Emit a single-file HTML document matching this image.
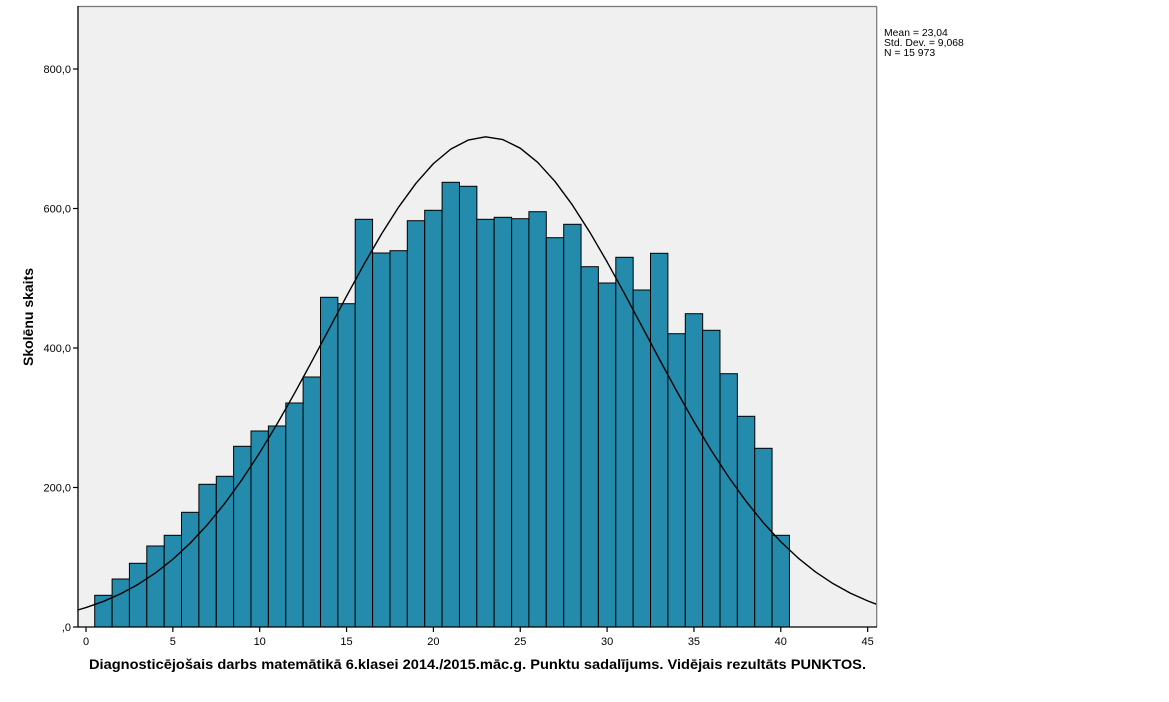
<!DOCTYPE html>
<html><head><meta charset="utf-8"><style>
html,body{margin:0;padding:0;background:#fff;}
svg{display:block;font-family:"Liberation Sans",Arial,sans-serif;}
</style></head><body>
<svg width="1169" height="702" viewBox="0 0 1169 702" xmlns="http://www.w3.org/2000/svg">
<rect x="0" y="0" width="1169" height="702" fill="#fff"/>
<rect x="78" y="6.5" width="799" height="620.5" fill="#f0f0f0"/>
<g fill="#248bac" stroke="#000" stroke-width="1">
<rect x="94.7" y="595.3" width="17.37" height="31.7"/>
<rect x="112.1" y="579" width="17.37" height="48"/>
<rect x="129.4" y="563.3" width="17.37" height="63.7"/>
<rect x="146.8" y="546" width="17.37" height="81"/>
<rect x="164.2" y="535.3" width="17.37" height="91.7"/>
<rect x="181.5" y="512.3" width="17.37" height="114.7"/>
<rect x="198.9" y="484.3" width="17.37" height="142.7"/>
<rect x="216.3" y="476.3" width="17.37" height="150.7"/>
<rect x="233.6" y="446.3" width="17.37" height="180.7"/>
<rect x="251.0" y="431" width="17.37" height="196"/>
<rect x="268.4" y="426" width="17.37" height="201"/>
<rect x="285.8" y="403" width="17.37" height="224"/>
<rect x="303.1" y="377" width="17.37" height="250"/>
<rect x="320.5" y="297.3" width="17.37" height="329.7"/>
<rect x="337.9" y="303.7" width="17.37" height="323.3"/>
<rect x="355.2" y="219.3" width="17.37" height="407.7"/>
<rect x="372.6" y="253" width="17.37" height="374"/>
<rect x="390.0" y="250.7" width="17.37" height="376.3"/>
<rect x="407.3" y="220.7" width="17.37" height="406.3"/>
<rect x="424.7" y="210.3" width="17.37" height="416.7"/>
<rect x="442.1" y="182.3" width="17.37" height="444.7"/>
<rect x="459.5" y="186.3" width="17.37" height="440.7"/>
<rect x="476.8" y="219.3" width="17.37" height="407.7"/>
<rect x="494.2" y="217.3" width="17.37" height="409.7"/>
<rect x="511.6" y="218.7" width="17.37" height="408.3"/>
<rect x="528.9" y="211.7" width="17.37" height="415.3"/>
<rect x="546.3" y="237.7" width="17.37" height="389.3"/>
<rect x="563.7" y="224.3" width="17.37" height="402.7"/>
<rect x="581.0" y="266.7" width="17.37" height="360.3"/>
<rect x="598.4" y="283" width="17.37" height="344"/>
<rect x="615.8" y="257.3" width="17.37" height="369.7"/>
<rect x="633.2" y="290" width="17.37" height="337"/>
<rect x="650.5" y="253.3" width="17.37" height="373.7"/>
<rect x="667.9" y="333.7" width="17.37" height="293.3"/>
<rect x="685.3" y="313.7" width="17.37" height="313.3"/>
<rect x="702.6" y="330.3" width="17.37" height="296.7"/>
<rect x="720.0" y="373.7" width="17.37" height="253.3"/>
<rect x="737.4" y="416.3" width="17.37" height="210.7"/>
<rect x="754.7" y="448.3" width="17.37" height="178.7"/>
<rect x="772.1" y="535.3" width="17.37" height="91.7"/>
</g>
<polyline fill="none" stroke="#000" stroke-width="1.4" stroke-linejoin="round" points="77.3,610.13 86,607.57 103.37,601.44 120.74,593.78 138.11,584.35 155.48,572.92 172.85,559.25 190.22,543.14 207.59,524.47 224.96,503.12 242.33,479.16 259.7,452.70 277.07,423.98 294.44,393.41 311.81,361.45 329.18,328.78 346.55,296.15 363.92,264.41 381.29,234.36 398.66,207.03 416.03,183.17 433.4,163.65 450.77,149.11 468.14,140.08 485.51,136.87 502.88,139.61 520.25,148.19 537.62,162.30 554.99,181.44 572.36,204.96 589.73,232.08 607.1,261.91 624.47,293.58 641.84,326.16 659.21,358.86 676.58,390.88 693.95,421.60 711.32,450.49 728.69,477.14 746.06,501.30 763.43,522.84 780.8,541.73 798.17,558.05 815.54,571.92 832.91,583.53 850.28,593.10 867.65,600.89 876.34,604.19"/>
<line x1="78" y1="6.5" x2="877" y2="6.5" stroke="#777" stroke-width="1.2"/>
<line x1="876.7" y1="6.5" x2="876.7" y2="627" stroke="#777" stroke-width="1.2"/>
<line x1="78" y1="6" x2="78" y2="627.5" stroke="#000" stroke-width="1.3"/>
<line x1="78" y1="627" x2="877" y2="627" stroke="#000" stroke-width="1.3"/>
<g stroke="#000" stroke-width="1.2">
<line x1="73" y1="69" x2="78" y2="69"/>
<line x1="73" y1="208.5" x2="78" y2="208.5"/>
<line x1="73" y1="348" x2="78" y2="348"/>
<line x1="73" y1="487.5" x2="78" y2="487.5"/>
<line x1="73" y1="627" x2="78" y2="627"/>
<line x1="86" y1="627" x2="86" y2="632"/>
<line x1="172.85" y1="627" x2="172.85" y2="632"/>
<line x1="259.7" y1="627" x2="259.7" y2="632"/>
<line x1="346.55" y1="627" x2="346.55" y2="632"/>
<line x1="433.4" y1="627" x2="433.4" y2="632"/>
<line x1="520.25" y1="627" x2="520.25" y2="632"/>
<line x1="607.1" y1="627" x2="607.1" y2="632"/>
<line x1="693.95" y1="627" x2="693.95" y2="632"/>
<line x1="780.8" y1="627" x2="780.8" y2="632"/>
<line x1="867.65" y1="627" x2="867.65" y2="632"/>
</g>
<g font-size="11" fill="#000" text-anchor="end">
<text x="71" y="73">800,0</text>
<text x="71" y="212.5">600,0</text>
<text x="71" y="352">400,0</text>
<text x="71" y="491.5">200,0</text>
<text x="71" y="631">,0</text>
</g>
<g font-size="11" fill="#000" text-anchor="middle">
<text x="86" y="645">0</text>
<text x="172.85" y="645">5</text>
<text x="259.7" y="645">10</text>
<text x="346.55" y="645">15</text>
<text x="433.4" y="645">20</text>
<text x="520.25" y="645">25</text>
<text x="607.1" y="645">30</text>
<text x="693.95" y="645">35</text>
<text x="780.8" y="645">40</text>
<text x="867.65" y="645">45</text>
</g>
<g font-size="10.4" fill="#000">
<text x="884" y="36">Mean = 23,04</text>
<text x="884" y="46">Std. Dev. = 9,068</text>
<text x="884" y="56">N = 15 973</text>
</g>
<text x="89" y="669" font-size="14" font-weight="bold" fill="#000" textLength="777" lengthAdjust="spacingAndGlyphs">Diagnosticējošais darbs matemātikā 6.klasei 2014./2015.māc.g. Punktu sadalījums. Vidējais rezultāts PUNKTOS.</text>
<text x="0" y="0" font-size="14" font-weight="bold" fill="#000" text-anchor="middle" transform="translate(33,317) rotate(-90)">Skolēnu skaits</text>
</svg>
</body></html>
